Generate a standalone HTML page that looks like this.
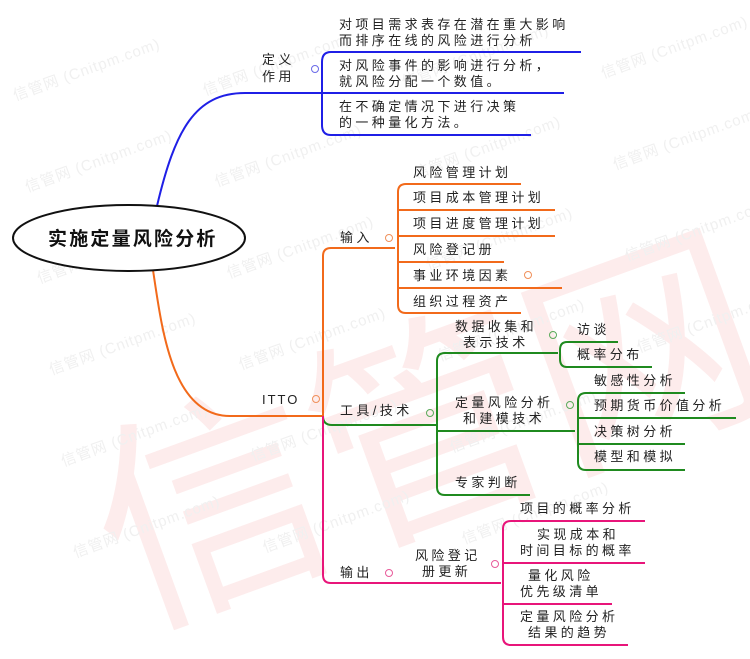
<!DOCTYPE html>
<html><head><meta charset="utf-8"><style>
html,body{margin:0;padding:0;background:#fff;}
svg{display:block;}
text{font-family:"Liberation Sans","Noto Sans CJK SC",sans-serif;font-size:13px;fill:#222;letter-spacing:3.4px;}
.wm{font-size:15px;fill:#f0f0f0;letter-spacing:1px;}
</style></head><body>
<svg width="750" height="659" viewBox="0 0 750 659" xmlns="http://www.w3.org/2000/svg">
<g transform="rotate(-20 400 400)" opacity="0.45">
<text x="70" y="520" style="font-size:230px;fill:#fbd6d6;letter-spacing:0">信管网</text>
</g>
<g transform="rotate(-20)">
<text class="wm" x="-20" y="100">信管网 (Cnitpm.com)</text>
<text class="wm" x="160" y="160">信管网 (Cnitpm.com)</text>
<text class="wm" x="350" y="220">信管网 (Cnitpm.com)</text>
<text class="wm" x="-40" y="190">信管网 (Cnitpm.com)</text>
<text class="wm" x="140" y="250">信管网 (Cnitpm.com)</text>
<text class="wm" x="330" y="310">信管网 (Cnitpm.com)</text>
<text class="wm" x="-60" y="280">信管网 (Cnitpm.com)</text>
<text class="wm" x="120" y="340">信管网 (Cnitpm.com)</text>
<text class="wm" x="310" y="400">信管网 (Cnitpm.com)</text>
<text class="wm" x="-80" y="370">信管网 (Cnitpm.com)</text>
<text class="wm" x="100" y="430">信管网 (Cnitpm.com)</text>
<text class="wm" x="290" y="490">信管网 (Cnitpm.com)</text>
<text class="wm" x="-100" y="460">信管网 (Cnitpm.com)</text>
<text class="wm" x="80" y="520">信管网 (Cnitpm.com)</text>
<text class="wm" x="270" y="580">信管网 (Cnitpm.com)</text>
<text class="wm" x="-120" y="550">信管网 (Cnitpm.com)</text>
<text class="wm" x="60" y="610">信管网 (Cnitpm.com)</text>
<text class="wm" x="250" y="670">信管网 (Cnitpm.com)</text>
<text class="wm" x="540" y="280">信管网 (Cnitpm.com)</text>
<text class="wm" x="520" y="370">信管网 (Cnitpm.com)</text>
<text class="wm" x="500" y="460">信管网 (Cnitpm.com)</text>
<text class="wm" x="480" y="550">信管网 (Cnitpm.com)</text>
</g>

<g fill="none" stroke="#1f1fe6" stroke-width="2">
<path d="M157 206 C175 130 195 93 245 93 L321 93"/>
<path d="M331 52 Q322 52 322 62 L322 125 Q322 135 331 135"/>
<path d="M331 52 L581 52 M322 93 L564 93 M331 135 L531 135"/>
</g>
<circle cx="315" cy="69" r="3.5" fill="none" stroke="#6a6ae8" stroke-width="1"/>
<text x="262" y="64">定义</text>
<text x="262" y="81">作用</text>
<text x="339" y="29">对项目需求表存在潜在重大影响</text>
<text x="339" y="45">而排序在线的风险进行分析</text>
<text x="339" y="70">对风险事件的影响进行分析，</text>
<text x="339" y="86">就风险分配一个数值。</text>
<text x="339" y="111">在不确定情况下进行决策</text>
<text x="339" y="127">的一种量化方法。</text>

<g fill="none" stroke="#f26a1b" stroke-width="2">
<path d="M153 270 C162 330 172 416 230 416 L323 416"/>
<path d="M323 416 L323 256 Q323 248 331 248 L395 248"/>
<path d="M406 184 Q398 184 398 192 L398 305 Q398 313 406 313"/>
<path d="M406 184 L521 184 M398 210 L555 210 M398 236 L555 236 M398 262 L504 262 M398 288 L562 288 M406 313 L521 313"/>
</g>
<circle cx="316" cy="399" r="3.5" fill="none" stroke="#f0905a" stroke-width="1"/>
<circle cx="389" cy="238" r="3.5" fill="none" stroke="#f0905a" stroke-width="1"/>
<circle cx="528" cy="275" r="3.5" fill="none" stroke="#f0905a" stroke-width="1"/>
<text x="262" y="404" style="letter-spacing:2px">ITTO</text>
<text x="340" y="242">输入</text>
<text x="413" y="177">风险管理计划</text>
<text x="413" y="202">项目成本管理计划</text>
<text x="413" y="228">项目进度管理计划</text>
<text x="413" y="254">风险登记册</text>
<text x="413" y="280">事业环境因素</text>
<text x="413" y="306">组织过程资产</text>

<ellipse cx="129" cy="238" rx="116" ry="33" fill="#fff" stroke="#111" stroke-width="2"/>
<text x="48" y="245" style="font-size:19px;font-weight:bold;letter-spacing:2.2px;fill:#111">实施定量风险分析</text>

<g fill="none" stroke="#1f8a1f" stroke-width="2">
<path d="M323 416 Q323 425 332 425 L436 425"/>
<path d="M445 353 Q437 353 437 361 L437 487 Q437 495 445 495"/>
<path d="M445 353 L558 353 M437 431 L575 431 M445 495 L530 495"/>
<path d="M567 342 Q560 342 560 350 L560 359 Q560 367 567 367"/>
<path d="M567 342 L618 342 M567 367 L652 367"/>
<path d="M586 393 Q578 393 578 401 L578 462 Q578 470 586 470"/>
<path d="M586 393 L685 393 M578 418 L736 418 M578 444 L685 444 M586 470 L685 470"/>
</g>
<circle cx="430" cy="413" r="3.5" fill="none" stroke="#5aaa5a" stroke-width="1"/>
<circle cx="553" cy="335" r="3.5" fill="none" stroke="#5aaa5a" stroke-width="1"/>
<circle cx="570" cy="405" r="3.5" fill="none" stroke="#5aaa5a" stroke-width="1"/>
<text x="340" y="415">工具/技术</text>
<text x="455" y="331">数据收集和</text>
<text x="463" y="347">表示技术</text>
<text x="577" y="334">访谈</text>
<text x="577" y="359">概率分布</text>
<text x="455" y="407">定量风险分析</text>
<text x="463" y="423">和建模技术</text>
<text x="594" y="385">敏感性分析</text>
<text x="594" y="410">预期货币价值分析</text>
<text x="594" y="436">决策树分析</text>
<text x="594" y="461">模型和模拟</text>
<text x="455" y="487">专家判断</text>

<g fill="none" stroke="#e8157a" stroke-width="2">
<path d="M323 416 L323 575 Q323 583 331 583 L501 583"/>
<path d="M511 521 Q503 521 503 529 L503 637 Q503 645 511 645"/>
<path d="M511 521 L645 521 M503 563 L645 563 M503 604 L612 604 M511 645 L628 645"/>
</g>
<circle cx="389" cy="573" r="3.5" fill="none" stroke="#e85a9a" stroke-width="1"/>
<circle cx="495" cy="564" r="3.5" fill="none" stroke="#e85a9a" stroke-width="1"/>
<text x="340" y="577">输出</text>
<text x="415" y="560">风险登记</text>
<text x="422" y="576">册更新</text>
<text x="520" y="513">项目的概率分析</text>
<text x="537" y="539">实现成本和</text>
<text x="520" y="555">时间目标的概率</text>
<text x="528" y="580">量化风险</text>
<text x="520" y="596">优先级清单</text>
<text x="520" y="621">定量风险分析</text>
<text x="528" y="637">结果的趋势</text>
</svg>
</body></html>
